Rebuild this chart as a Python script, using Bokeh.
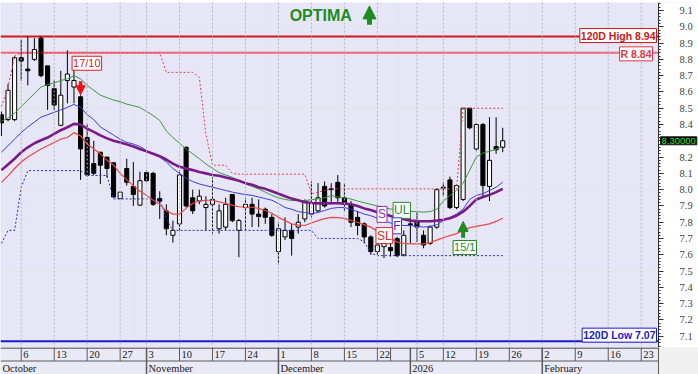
from bokeh.plotting import figure
from bokeh.models import (Range1d, Span, Label, Arrow, NormalHead, FixedTicker,
                          ColumnDataSource, LinearAxis, BoxAnnotation)
from bokeh.layouts import column
from bokeh.embed import file_html
from bokeh.resources import INLINE

# ---------------- data (trading-day index 0 = 1 Oct 2025) ----------------
opens = [8.46, 8.43, 8.43, 8.81, 8.74, 8.80, 8.93, 8.76, 8.62, 8.395,
         8.67, 8.63, 8.57, 8.32, 8.16, 8.23, 8.20, 8.165, 7.945, 8.13,
         8.02, 7.905, 8.105, 8.10, 7.945, 7.87, 7.72, 7.79, 8.26, 7.95,
         7.93, 7.89, 7.91, 7.76, 7.77, 7.97, 7.75, 7.89, 7.91, 7.85,
         7.88, 7.83, 7.62, 7.71, 7.75, 7.77, 7.82, 7.85, 7.87, 8.02,
         8.005, 8.045, 7.95, 7.91, 7.83, 7.79, 7.71, 7.62, 7.65, 7.645,
         7.70, 7.60, 7.79, 7.81, 7.72, 7.67, 7.77, 8.015, 8.06, 7.89,
         7.94, 8.50, 8.25, 8.40, 8.02, 8.265, 8.26]
highs = [8.48, 8.65, 8.82, 8.92, 8.94, 8.93, 8.94, 8.76, 8.67, 8.73,
         8.855, 8.75, 8.58, 8.40, 8.30, 8.23, 8.20, 8.165, 7.985, 8.19,
         8.17, 8.11, 8.12, 8.11, 7.99, 7.91, 7.81, 8.12, 8.265, 8.00,
         8.00, 7.96, 8.075, 7.91, 7.95, 7.97, 7.82, 7.95, 7.95, 7.94,
         7.89, 7.85, 7.80, 7.83, 7.79, 7.85, 7.94, 8.05, 8.04, 8.05,
         8.04, 8.09, 8.04, 7.93, 7.87, 7.80, 7.72, 7.71, 7.68, 7.67,
         7.71, 7.75, 7.86, 7.86, 7.75, 7.78, 8.01, 8.045, 8.08, 8.03,
         8.50, 8.50, 8.41, 8.41, 8.445, 8.445, 8.38]
lows = [8.33, 8.42, 8.42, 8.67, 8.64, 8.79, 8.69, 8.49, 8.49, 8.39,
        8.53, 8.53, 8.06, 8.08, 8.09, 8.035, 8.075, 7.95, 7.945, 8.025,
        7.90, 7.90, 8.05, 7.90, 7.82, 7.72, 7.675, 7.75, 7.89, 7.85,
        7.91, 7.75, 7.73, 7.73, 7.75, 7.80, 7.585, 7.75, 7.77, 7.77,
        7.79, 7.71, 7.54, 7.69, 7.595, 7.73, 7.80, 7.83, 7.86, 7.89,
        7.91, 7.91, 7.87, 7.77, 7.72, 7.67, 7.60, 7.60, 7.58, 7.59,
        7.585, 7.59, 7.67, 7.68, 7.64, 7.66, 7.76, 7.96, 7.88, 7.88,
        7.93, 8.37, 8.24, 7.95, 7.93, 8.22, 8.23]
closes = [8.41, 8.61, 8.81, 8.79, 8.73, 8.86, 8.70, 8.64, 8.52, 8.58,
          8.71, 8.67, 8.25, 8.09, 8.10, 8.15, 8.13, 7.955, 7.985, 8.045,
          7.97, 8.055, 8.055, 7.91, 7.93, 7.76, 7.75, 8.09, 7.90, 7.87,
          7.96, 7.91, 7.94, 7.87, 7.91, 7.81, 7.81, 7.91, 7.85, 7.835,
          7.83, 7.72, 7.76, 7.75, 7.70, 7.80, 7.93, 7.92, 7.95, 7.90,
          8.00, 7.95, 7.91, 7.80, 7.78, 7.71, 7.62, 7.66, 7.67, 7.625,
          7.595, 7.72, 7.785, 7.77, 7.66, 7.77, 8.00, 8.01, 7.89, 8.025,
          8.50, 8.38, 8.40, 8.025, 8.18, 8.245, 8.30]

ma_ul = [8.42, 8.44, 8.47, 8.51, 8.55, 8.59, 8.63, 8.645, 8.655, 8.67,
         8.68, 8.70, 8.68, 8.64, 8.61, 8.58, 8.565, 8.55, 8.54, 8.525,
         8.515, 8.505, 8.48, 8.455, 8.425, 8.36, 8.32, 8.285, 8.25, 8.22,
         8.19, 8.158, 8.13, 8.105, 8.09, 8.076, 8.055, 8.035, 8.02, 8.004,
         7.985, 7.965, 7.95, 7.94, 7.933, 7.933, 7.933, 7.938, 7.943, 7.95,
         7.964, 7.955, 7.95, 7.942, 7.93, 7.92, 7.91, 7.90, 7.89, 7.881,
         7.875, 7.87, 7.867, 7.865, 7.862, 7.865, 7.88, 7.93, 7.965, 7.995,
         8.04, 8.12, 8.20, 8.225, 8.235, 8.248, 8.265]
ma_f = [8.23, 8.27, 8.31, 8.35, 8.385, 8.415, 8.445, 8.46, 8.475, 8.49,
        8.505, 8.523, 8.506, 8.46, 8.43, 8.385, 8.36, 8.335, 8.31, 8.29,
        8.28, 8.265, 8.24, 8.22, 8.20, 8.17, 8.13, 8.10, 8.07, 8.05,
        8.035, 8.025, 8.015, 8.005, 7.995, 7.985, 7.977, 7.97, 7.965, 7.955,
        7.945, 7.935, 7.915, 7.89, 7.88, 7.865, 7.86, 7.852, 7.86, 7.872,
        7.885, 7.89, 7.89, 7.88, 7.865, 7.85, 7.84, 7.825, 7.81, 7.795,
        7.785, 7.78, 7.78, 7.775, 7.77, 7.775, 7.785, 7.81, 7.83, 7.85,
        7.88, 7.94, 7.965, 7.975, 7.995, 8.015, 8.046]
ma_s = [8.12, 8.155, 8.19, 8.23, 8.26, 8.285, 8.303, 8.32, 8.342, 8.365,
        8.383, 8.404, 8.40, 8.375, 8.355, 8.333, 8.315, 8.30, 8.29, 8.278,
        8.265, 8.25, 8.235, 8.22, 8.205, 8.185, 8.16, 8.14, 8.13, 8.12,
        8.108, 8.10, 8.09, 8.085, 8.075, 8.065, 8.055, 8.04, 8.03, 8.015,
        8.005, 7.99, 7.975, 7.96, 7.945, 7.935, 7.923, 7.918, 7.916, 7.916,
        7.917, 7.917, 7.914, 7.91, 7.90, 7.885, 7.875, 7.862, 7.85, 7.838,
        7.828, 7.818, 7.81, 7.807, 7.806, 7.806, 7.81, 7.815, 7.825, 7.84,
        7.865, 7.90, 7.94, 7.955, 7.968, 7.985, 8.005]
ma_sl = [8.045, 8.085, 8.13, 8.17, 8.20, 8.225, 8.25, 8.27, 8.29, 8.31,
         8.32, 8.35, 8.33, 8.28, 8.25, 8.22, 8.18, 8.15, 8.10, 8.06,
         8.025, 7.99, 7.965, 7.935, 7.91, 7.87, 7.85, 7.85, 7.885, 7.915,
         7.93, 7.935, 7.935, 7.925, 7.915, 7.905, 7.895, 7.892, 7.892, 7.885,
         7.872, 7.855, 7.83, 7.81, 7.79, 7.782, 7.78, 7.795, 7.81, 7.822,
         7.83, 7.828, 7.824, 7.81, 7.80, 7.785, 7.77, 7.745, 7.72, 7.70,
         7.678, 7.67, 7.667, 7.667, 7.667, 7.675, 7.69, 7.705, 7.718, 7.73,
         7.75, 7.767, 7.775, 7.782, 7.79, 7.805, 7.825]
stop_hi = [8.51, 8.63, 8.82, 8.84, 8.84, 8.84, 8.84, 8.84, 8.84, 8.84,
           8.84, 8.84, 8.84, 8.84, 8.84, 8.84, 8.84, 8.84, 8.84, 8.84,
           8.84, 8.84, 8.84, 8.84, 8.84, 8.72, 8.72, 8.72, 8.72, 8.72,
           8.69, 8.34, 8.15, 8.15, 8.15, 8.10, 8.095, 8.095, 8.095, 8.095,
           8.095, 8.095, 8.095, 8.095, 8.095, 8.095, 8.095, 7.975, 7.985, 7.995,
           8.005, 8.005, 8.005, 8.005, 8.005, 8.005, 8.005, 8.005, 8.005, 8.005,
           8.005, 8.005, 8.005, 8.005, 8.005, 8.005, 8.005, 8.005, 8.005, 8.005,
           8.50, 8.50, 8.50, 8.50, 8.50, 8.50, 8.50]
stop_lo = [7.67, 7.75, 7.75, 8.015, 8.117, 8.117, 8.117, 8.117, 8.117, 8.117,
           8.117, 8.117, 8.117, 8.087, 8.087, 8.087, 8.087, 7.943, 7.943, 7.943,
           7.943, 7.943, 7.943, 7.943, 7.943, 7.82, 7.75, 7.75, 7.75, 7.75,
           7.75, 7.75, 7.75, 7.75, 7.75, 7.75, 7.75, 7.75, 7.75, 7.75,
           7.75, 7.75, 7.75, 7.75, 7.75, 7.75, 7.75, 7.75, 7.70, 7.70,
           7.70, 7.70, 7.70, 7.70, 7.70, 7.68, 7.61, 7.595, 7.595, 7.595,
           7.595, 7.595, 7.595, 7.595, 7.595, 7.595, 7.595, 7.595, 7.595, 7.595,
           7.595, 7.595, 7.595, 7.595, 7.595, 7.595, 7.595]

high_120d = 8.94
resist = 8.84
low_120d = 7.07
last_close = 8.30

y_ticks = [7.1, 7.2, 7.3, 7.4, 7.5, 7.6, 7.7, 7.8, 7.9, 8.0, 8.1,
           8.2, 8.3, 8.4, 8.5, 8.6, 8.7, 8.8, 8.9, 9.0, 9.1]
y_tick_lbl = ["7.1", "7.2", "7.3", "7.4", "7.5", "7.6", "7.7", "7.8", "7.9", "8.0", "8.1",
              "8.2", "", "8.4", "8.5", "8.6", "8.7", "8.8", "8.9", "9.0", "9.1"]

day_tick_idx = [3, 8, 13, 18, 22, 27, 32, 37, 42, 47, 52, 57, 63, 67, 72, 77, 82, 87, 92, 97]
day_tick_lbl = ["6", "13", "20", "27", "3", "10", "17", "24", "1", "8", "15", "22",
                "5", "12", "19", "26", "2", "9", "16", "23"]
extra_tick_idx = [59]
month_idx = [22, 42, 62, 82]
month_lbl_idx = [-0.14, 22, 42, 62, 82]
month_lbl = ["October", "November", "December", "2026", "February"]

sell_idx = 12
buy_idx = 70

# ---------------- layout constants ----------------
W, H_MAIN, H_STRIP = 698, 347, 27
PLOT_W = 658            # width of the price area
RES = 0                 # no space kept outside the frame
FRAME_W = W - RES
X0, X1 = -0.14, 99.62
XR = X0 + (X1 - X0) * FRAME_W / PLOT_W
Y0, Y1 = 7.031, 9.149
BG = "#E6E6F7"
FONT = "Liberation Sans"

xr = Range1d(X0, XR)
p = figure(width=W, height=H_MAIN, x_range=xr, y_range=Range1d(Y0, Y1),
           y_axis_location=None, x_axis_location=None,
           output_backend="svg", toolbar_location=None,
           min_border_left=0, min_border_right=RES, min_border_top=2, min_border_bottom=0)
p.background_fill_color = BG
p.border_fill_color = "white"
p.outline_line_color = None

# white area behind the price axis
p.add_layout(BoxAnnotation(left=X1, fill_color="white", fill_alpha=1.0, line_color=None,
                           level="underlay"))

ax = LinearAxis(fixed_location=X1)
ax.ticker = FixedTicker(ticks=y_ticks,
                        minor_ticks=[round(7.04 + 0.02 * k, 2) for k in range(106)])
ax.major_label_overrides = {t: "" for t in y_ticks}
ax.major_label_standoff = 0
ax.axis_line_color = "#303030"
ax.major_tick_line_color = "#303030"
ax.minor_tick_line_color = "#303030"
ax.major_tick_out = 0
ax.major_tick_in = -5
ax.minor_tick_out = 0
ax.minor_tick_in = -2
p.add_layout(ax, "right")

# price labels of the axis
p.text(x=[X1] * len(y_ticks), y=y_ticks, text=y_tick_lbl, x_offset=21,
       text_font=FONT, text_font_size="10.5px", text_color="#404040",
       text_baseline="middle", text_align="left")

for t in day_tick_idx:
    p.add_layout(Span(location=t, dimension="height", line_color="#B4B4C4",
                      line_dash="2 2", line_width=1))

# horizontal levels
p.segment(x0=[X0], y0=[high_120d], x1=[X1], y1=[high_120d], line_color="#D01818", line_width=2)
p.segment(x0=[X0], y0=[resist], x1=[X1], y1=[resist], line_color="#EE6A78", line_width=2)
p.segment(x0=[X0], y0=[low_120d], x1=[X1], y1=[low_120d], line_color="#1A1ACC", line_width=2)

# candles
xs = list(range(len(opens)))
top = [max(o, c) for o, c in zip(opens, closes)]
bot = [min(o, c) for o, c in zip(opens, closes)]
fill = ["white" if c >= o else "black" for o, c in zip(opens, closes)]
src = ColumnDataSource(dict(x=xs, o=opens, h=highs, l=lows, c=closes, top=top, bot=bot, fill=fill))
p.segment(x0="x", y0="h", x1="x", y1="l", source=src, line_color="black", line_width=1)
p.vbar(x="x", width=0.62, top="top", bottom="bot", fill_color="fill",
       line_color="black", line_width=1, source=src)

# indicator lines
p.line(xs, stop_hi, line_color="#E8404A", line_width=1, line_dash="2 2")
p.line(xs, stop_lo, line_color="#2A2ACC", line_width=1, line_dash="2 2")
p.line(xs, ma_ul, line_color="#3A9A3A", line_width=1)
p.line(xs, ma_f, line_color="#3C3CE6", line_width=1)
p.line(xs, ma_sl, line_color="#E84848", line_width=1.2)
p.line(xs, ma_s, line_color="#7A1A8A", line_width=2.6)

def box(x, y, text, color, size="11px", bold=False, align="center", xo=0, yo=0, pad=1):
    p.add_layout(Label(x=x, y=y, text=text, x_offset=xo, y_offset=yo,
                       text_align=align, text_baseline="middle",
                       text_font=FONT, text_font_size=size,
                       text_font_style="bold" if bold else "normal",
                       text_color=color, background_fill_color="white",
                       border_line_color=color, border_line_width=1, padding=pad))

box(X1, high_120d, "120D High 8.94", "#D01818", size="10.5px", bold=True, align="right", xo=-2, yo=1)
box(X1, resist, "R 8.84", "#E03848", size="10.5px", bold=True, align="right", xo=-6, yo=-1)
box(X1, low_120d, "120D Low 7.07", "#1A1ACC", size="10.5px", bold=True, align="right", xo=-2, yo=6)

box(sell_idx + 0.95, 8.776, "17/10", "#E02020")
box(buy_idx + 0.25, 7.645, "15/1", "#1E8C1E")
box(57.7, 7.848, "S", "#9030A8", size="12px")
box(60.7, 7.873, "UL", "#2E8C2E", size="12px")
box(59.95, 7.778, "F", "#3030E0", size="12px")
box(58.05, 7.718, "SL", "#E02828", size="12px")

# signal arrows
p.add_layout(Arrow(end=NormalHead(size=9, fill_color="#F01010", line_color="#F01010"),
                   x_start=sell_idx, y_start=8.665, x_end=sell_idx, y_end=8.583,
                   line_color="#F01010", line_width=3.5))
p.add_layout(Arrow(end=NormalHead(size=10, fill_color="#1E8C1E", line_color="#1E8C1E"),
                   x_start=buy_idx, y_start=7.705, x_end=buy_idx, y_end=7.805,
                   line_color="#1E8C1E", line_width=4))

# title OPTIMA with arrow
p.add_layout(Label(x=43.7, y=9.069, text="OPTIMA", text_font=FONT, text_font_size="16px",
                   text_font_style="bold", text_color="#1E8C1E", text_baseline="middle"))
p.add_layout(Arrow(end=NormalHead(size=13, fill_color="#1E8C1E", line_color="#1E8C1E"),
                   x_start=55.8, y_start=9.012, x_end=55.8, y_end=9.128,
                   line_color="#1E8C1E", line_width=5))

# last price tag on the axis
p.add_layout(Label(x=X1, y=last_close, x_offset=2, text="8.30000", text_font=FONT,
                   text_font_size="9.5px", text_color="#22EE22", text_baseline="middle",
                   background_fill_color="black", border_line_color="#202020", padding=1))

# ---------------- date strip (same frame width as the price plot) ----------------
s = figure(width=W, height=H_STRIP, x_range=xr, y_range=Range1d(0, 2),
           x_axis_location=None, y_axis_location=None,
           output_backend="svg", toolbar_location=None,
           min_border_left=0, min_border_right=RES, min_border_top=0, min_border_bottom=0)
s.background_fill_color = "#EAEAF6"
s.border_fill_color = "#F0F0F0"
s.outline_line_color = None
s.xgrid.grid_line_color = None
s.ygrid.grid_line_color = None
s.add_layout(BoxAnnotation(left=X1, fill_color="#F0F0F0", fill_alpha=1.0, line_color=None,
                           level="underlay"))
LC = "#5A5A5A"
s.segment(x0=[X0], y0=[1.97], x1=[X1], y1=[1.97], line_color=LC, line_width=1.5)
s.segment(x0=[X0], y0=[1.0], x1=[X1], y1=[1.0], line_color=LC, line_width=1)
tick_all = day_tick_idx + extra_tick_idx
s.segment(x0=tick_all, y0=[1] * len(tick_all), x1=tick_all, y1=[2] * len(tick_all),
          line_color=LC, line_width=1)
s.segment(x0=month_idx, y0=[0] * len(month_idx), x1=month_idx, y1=[2] * len(month_idx),
          line_color=LC, line_width=1.5)
s.segment(x0=[X1], y0=[0], x1=[X1], y1=[2], line_color=LC, line_width=1)
s.text(x=day_tick_idx, y=[1.45] * len(day_tick_idx), text=day_tick_lbl, x_offset=2,
       text_font=FONT, text_font_size="10.5px", text_color="#202020",
       text_baseline="middle", text_align="left")
s.text(x=month_lbl_idx, y=[0.45] * len(month_lbl_idx), text=month_lbl, x_offset=2,
       text_font=FONT, text_font_size="10.5px", text_color="#202020",
       text_baseline="middle", text_align="left")

layout = column(p, s, spacing=0)
open("out.html", "w").write(file_html(layout, INLINE))
